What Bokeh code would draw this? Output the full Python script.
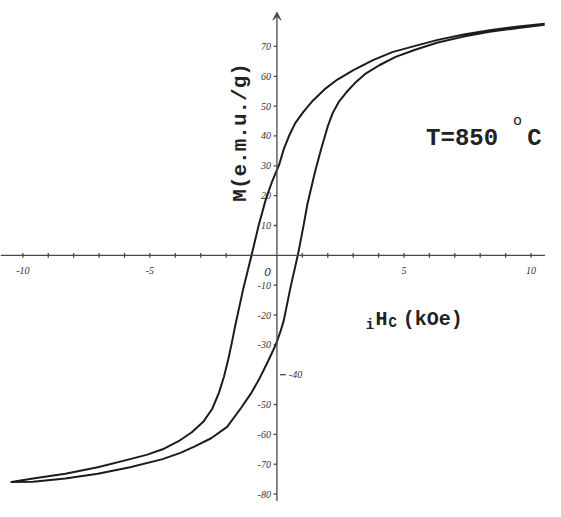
import math
from bokeh.plotting import figure
from bokeh.models import Range1d, Span, Arrow, VeeHead, Label, ColumnDataSource
from bokeh.embed import file_html
from bokeh.resources import INLINE

# ---- data ----
# descending-field branch (from +H down to -H)
desc_H = [10.54, 9.51, 8.37, 7.35, 6.33, 5.44, 4.54, 3.78, 3.01, 2.38, 1.87, 1.42, 1.04,
          0.72, 0.47, 0.27, 0.08, -0.2, -0.43, -0.72, -1.0, -1.32, -1.64, -1.78, -1.92,
          -2.08, -2.28, -2.55, -2.9, -3.35, -3.87, -4.5, -5.1, -5.78, -7.05, -8.33, -9.6, -10.45]
desc_M = [77.6, 76.7, 75.4, 74.0, 72.2, 70.2, 68.1, 65.4, 62.1, 58.9, 55.6, 51.9, 48.1,
          44.3, 39.9, 35.6, 30.2, 24.5, 19.0, 10.0, 0.0, -11.0, -23.5, -29.5, -35.0,
          -40.5, -46.0, -51.5, -55.8, -59.3, -62.3, -65.0, -66.8, -68.3, -71.0, -73.2, -74.8, -76.0]
# ascending-field branch (from -H up to +H)
asc_H = [-10.45, -9.6, -8.33, -7.05, -5.78, -4.5, -3.8, -3.23, -2.59, -1.96, -1.4, -1.0,
         -0.67, -0.35, -0.05, 0.14, 0.27, 0.53, 0.82, 1.04, 1.2, 1.5, 1.74, 2.0, 2.2, 2.45,
         2.75, 3.08, 3.46, 4.03, 4.67, 5.44, 6.33, 7.35, 8.37, 9.51, 10.54]
asc_M = [-76.0, -75.9, -74.8, -73.2, -71.0, -68.3, -66.2, -64.0, -61.3, -57.5, -51.0, -46.0,
         -41.0, -35.5, -30.0, -25.5, -21.8, -10.9, 0.0, 9.6, 17.2, 28.0, 35.6, 43.2, 47.8, 51.6,
         54.8, 57.8, 60.7, 63.7, 66.5, 68.9, 71.3, 73.3, 74.9, 76.2, 77.3]

x_ticks = [-10, -9, -8, -7, -6, -5, -4, -3, -2, -1, 1, 2, 3, 4, 5, 6, 7, 8, 9, 10]
x_label_vals = [-10, -5, 5, 10]
x_label_text = ["-10", "-5", "5", "10"]

y_ticks_left = [-80, -70, -60, -50, -30, -20, -10, 10, 20, 30, 40, 50, 60, 70]
y_label_left = ["-80", "-70", "-60", "-50", "-30", "-20", "-10", "10", "20", "30", "40", "50", "60", "70"]
y_ticks_right = [-40]
y_label_right = ["-40"]

# ---- figure ----
p = figure(width=545, height=501,
           x_range=Range1d(-10.88, 10.57), y_range=Range1d(-82.5, 85.4),
           output_backend="svg", toolbar_location=None,
           x_axis_type=None, y_axis_type=None, min_border=0)
p.grid.visible = False
p.outline_line_color = None
p.background_fill_color = "white"
p.border_fill_color = "white"

axis_col = "#4a4a4a"
ink = "#1c1c1c"
txt_col = "#222222"
tick_font = "DejaVu Sans"
mono = "Liberation Mono"

# axes lines
p.add_layout(Span(location=0, dimension="width", line_color=axis_col, line_width=1.3))
p.add_layout(Arrow(end=VeeHead(size=8, line_color=axis_col, fill_color=axis_col, line_width=1),
                   x_start=0, y_start=-82.5, x_end=0, y_end=81.5,
                   line_color=axis_col, line_width=1.3))

# x ticks
xt = ColumnDataSource(dict(x=x_ticks, y0=[-0.8] * len(x_ticks), y1=[0.8] * len(x_ticks)))
p.segment(x0="x", y0="y0", x1="x", y1="y1", source=xt, line_color=axis_col, line_width=1.3)
xl = ColumnDataSource(dict(x=x_label_vals, y=[0] * len(x_label_vals), t=x_label_text))
p.text(x="x", y="y", text="t", source=xl, y_offset=15, text_align="center",
       text_baseline="middle", text_font=tick_font, text_font_style="italic",
       text_font_size="10px", text_color="#333333")
p.add_layout(Label(x=-0.36, y=-5.5, text="0", text_align="center", text_baseline="middle",
                   text_font=tick_font, text_font_style="italic", text_font_size="11px",
                   text_color="#333333"))

# y ticks (left side)
yl = ColumnDataSource(dict(y=y_ticks_left, x0=[-0.13] * len(y_ticks_left),
                           x1=[0] * len(y_ticks_left), t=y_label_left))
p.segment(x0="x0", y0="y", x1="x1", y1="y", source=yl, line_color=axis_col, line_width=1.3)
p.text(x="x1", y="y", text="t", source=yl, x_offset=-6, text_align="right",
       text_baseline="middle", text_font=tick_font, text_font_style="italic",
       text_font_size="10px", text_color="#333333")
# y ticks (right side)
yr = ColumnDataSource(dict(y=y_ticks_right, x0=[0.12] * len(y_ticks_right),
                           x1=[0.35] * len(y_ticks_right), t=y_label_right))
p.segment(x0="x0", y0="y", x1="x1", y1="y", source=yr, line_color=axis_col, line_width=1.3)
p.text(x="x1", y="y", text="t", source=yr, x_offset=3, text_align="left",
       text_baseline="middle", text_font=tick_font, text_font_style="italic",
       text_font_size="10px", text_color="#333333")

# hysteresis loop
loop_H = desc_H + asc_H
loop_M = desc_M + asc_M
p.line(loop_H, loop_M, line_color=ink, line_width=2.0, line_join="round")

# texts
p.add_layout(Label(x=-1.43, y=41.2, text="M(e.m.u./g)", angle=math.pi / 2,
                   text_align="center", text_baseline="middle",
                   text_font=mono, text_font_style="bold", text_font_size="21px",
                   text_color=txt_col))
p.add_layout(Label(x=5.87, y=39.3, text="T=850", text_align="left", text_baseline="alphabetic",
                   text_font=mono, text_font_style="bold", text_font_size="24px",
                   text_color=txt_col))
p.add_layout(Label(x=9.29, y=45.0, text="o", text_align="left", text_baseline="alphabetic",
                   text_font=mono, text_font_style="normal", text_font_size="15px",
                   text_color=txt_col))
p.add_layout(Label(x=9.85, y=39.3, text="C", text_align="left", text_baseline="alphabetic",
                   text_font=mono, text_font_style="bold", text_font_size="24px",
                   text_color=txt_col))
# x-axis title  iHc(kOe)
p.add_layout(Label(x=3.5, y=-23.5, text="i", text_align="left", text_baseline="alphabetic",
                   text_font=mono, text_font_style="bold", text_font_size="14px",
                   text_color=txt_col))
p.add_layout(Label(x=3.88, y=-21.5, text="H", text_align="left", text_baseline="alphabetic",
                   text_font=mono, text_font_style="bold", text_font_size="20px",
                   text_color=txt_col))
p.add_layout(Label(x=4.39, y=-22.8, text="C", text_align="left", text_baseline="alphabetic",
                   text_font=mono, text_font_style="bold", text_font_size="14px",
                   text_color=txt_col))
p.add_layout(Label(x=4.95, y=-21.5, text="(kOe)", text_align="left", text_baseline="alphabetic",
                   text_font=mono, text_font_style="bold", text_font_size="20px",
                   text_color=txt_col))

open("out.html", "w").write(file_html(p, INLINE))
